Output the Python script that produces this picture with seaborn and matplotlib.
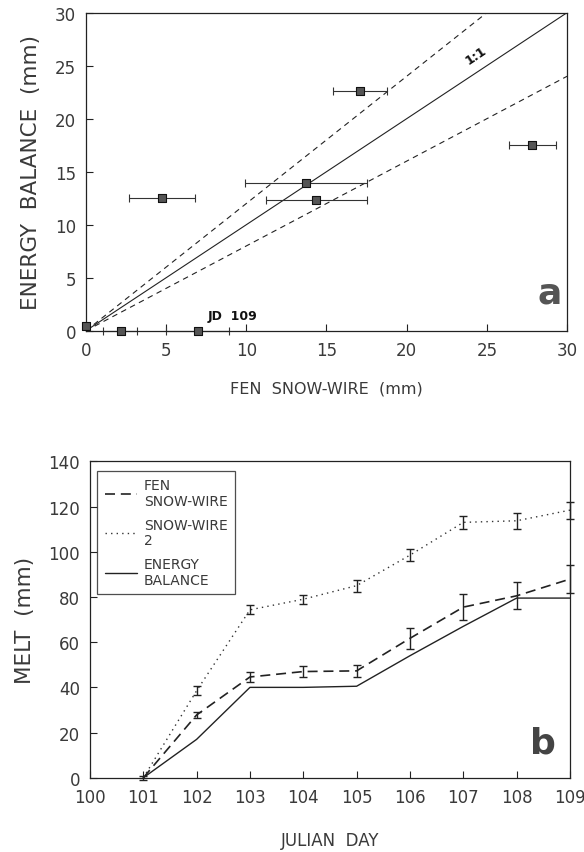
import numpy as np
import pandas as pd
import matplotlib
matplotlib.use("Agg")
import matplotlib.pyplot as plt
import seaborn as sns

# ---- Panel a: energy balance vs fen snow-wire melt (mm)
wire_melt = [0.0, 2.2, 7.0, 4.75, 13.7, 14.35, 17.1, 27.8]
wire_err_lo = [0.0, 1.1, 5.0, 2.7, 9.9, 11.2, 15.4, 26.4]
wire_err_hi = [0.0, 3.2, 8.9, 6.8, 17.5, 17.5, 18.8, 29.3]
eb_melt = [0.5, 0.0, 0.0, 12.5, 13.9, 12.3, 22.6, 17.5]
ratio_lines = [1.0, 1.2, 0.8]

# ---- Panel b: cumulative melt by Julian day
julian_day = [101, 102, 103, 104, 105, 106, 107, 108, 109]
fen_wire = [0, 27.8, 44.6, 47.0, 47.3, 61.7, 75.5, 80.5, 87.9]
fen_wire_err = [1.0, 1.5, 2.2, 2.6, 2.7, 4.6, 5.8, 5.9, 6.3]
wire2 = [0, 38.5, 74.3, 79.0, 85.0, 98.5, 113.0, 113.7, 118.4]
wire2_err = [1.0, 2.0, 2.0, 2.0, 2.6, 2.6, 2.8, 3.5, 3.7]
energy_bal = [0, 17, 40, 40, 40.5, 54, 67, 79.5, 79.5]

sns.set_theme(style="ticks")
plt.rcParams["font.family"] = ["DejaVu Sans"]
TXT = "#3a3a3a"

fig = plt.figure(figsize=(5.84, 8.53), dpi=100)
ax1 = fig.add_axes([0.147, 0.611, 0.824, 0.373])
ax2 = fig.add_axes([0.154, 0.087, 0.822, 0.371])

for ax in (ax1, ax2):
    for s in ax.spines.values():
        s.set_color("#222")
        s.set_linewidth(0.9)
    ax.tick_params(direction="in", length=5, width=0.8, colors="#222",
                   labelcolor=TXT, labelsize=12, pad=7)

# ---- Panel a
xline = np.array([0, 30])
for r, ls in zip(ratio_lines, ["-", "--", "--"]):
    sns.lineplot(x=xline, y=xline * r, ax=ax1, color="#222", lw=0.8,
                 linestyle=ls)
for line in ax1.get_lines()[1:]:
    line.set_dashes([5, 4])

dfa = pd.DataFrame({"wire": wire_melt, "eb": eb_melt,
                    "lo": wire_err_lo, "hi": wire_err_hi})
ax1.errorbar(dfa["wire"], dfa["eb"],
             xerr=[dfa["wire"] - dfa["lo"], dfa["hi"] - dfa["wire"]],
             fmt="none", ecolor="#333", elinewidth=0.8, capsize=3,
             capthick=0.8, clip_on=False)
sns.scatterplot(data=dfa, x="wire", y="eb", ax=ax1, marker="s", s=40,
                color="#555", edgecolor="#111", linewidth=0.8, zorder=5,
                clip_on=False)

ax1.set_xlim(0, 30)
ax1.set_ylim(0, 30)
ax1.set_xticks([0, 5, 10, 15, 20, 25, 30])
ax1.set_yticks([0, 5, 10, 15, 20, 25, 30])
ax1.set_xlabel("FEN  SNOW-WIRE  (mm)", fontsize=11.5, color=TXT, labelpad=16)
ax1.set_ylabel("ENERGY  BALANCE  (mm)", fontsize=15.5, color=TXT, labelpad=10)
ax1.text(24.3, 26.0, "1:1", rotation=34, fontsize=9, fontweight="bold",
         ha="center", va="center", color="#111")
ax1.text(7.6, 1.1, "JD  109", fontsize=9, fontweight="bold", color="#111")
ax1.text(28.9, 2.0, "a", fontsize=26, fontweight="bold", color="#555",
         ha="center", va="bottom")

# ---- Panel b
dfb = pd.DataFrame({"day": julian_day, "fen": fen_wire, "fen_err": fen_wire_err,
                    "w2": wire2, "w2_err": wire2_err, "eb": energy_bal})
sns.lineplot(data=dfb, x="day", y="fen", ax=ax2, color="#222", lw=1.2,
             label="FEN\nSNOW-WIRE")
ax2.get_lines()[-1].set_dashes([6, 3.5])
sns.lineplot(data=dfb, x="day", y="w2", ax=ax2, color="#333", lw=1.0,
             label="SNOW-WIRE\n2")
ax2.get_lines()[-1].set_dashes([1, 3])
sns.lineplot(data=dfb, x="day", y="eb", ax=ax2, color="#222", lw=1.0,
             label="ENERGY\nBALANCE")

ax2.errorbar(dfb["day"], dfb["fen"], yerr=dfb["fen_err"], fmt="none",
             ecolor="#222", elinewidth=1.0, capsize=3, capthick=1.0,
             clip_on=False)
ax2.errorbar(dfb["day"][1:], dfb["w2"][1:], yerr=dfb["w2_err"][1:], fmt="none",
             ecolor="#222", elinewidth=1.0, capsize=3, capthick=1.0,
             clip_on=False)

ax2.set_xlim(100, 109)
ax2.set_ylim(0, 140)
ax2.set_xticks(range(100, 110))
ax2.set_yticks(range(0, 141, 20))
ax2.set_xlabel("JULIAN  DAY", fontsize=12, color=TXT, labelpad=18)
ax2.set_ylabel("MELT  (mm)", fontsize=15.5, color=TXT, labelpad=10)
ax2.text(108.5, 8, "b", fontsize=26, fontweight="bold", color="#444",
         ha="center", va="bottom")

leg = ax2.legend(loc="upper left", bbox_to_anchor=(0.015, 0.97),
                 fontsize=10, frameon=True, fancybox=False, handlelength=2.3,
                 handletextpad=0.5, labelspacing=0.75, borderpad=0.55,
                 borderaxespad=0.0, edgecolor="#222")
leg.get_frame().set_linewidth(0.9)
for t in leg.get_texts():
    t.set_color(TXT)
    t.set_linespacing(1.1)

fig.savefig("out.png", dpi=100)
